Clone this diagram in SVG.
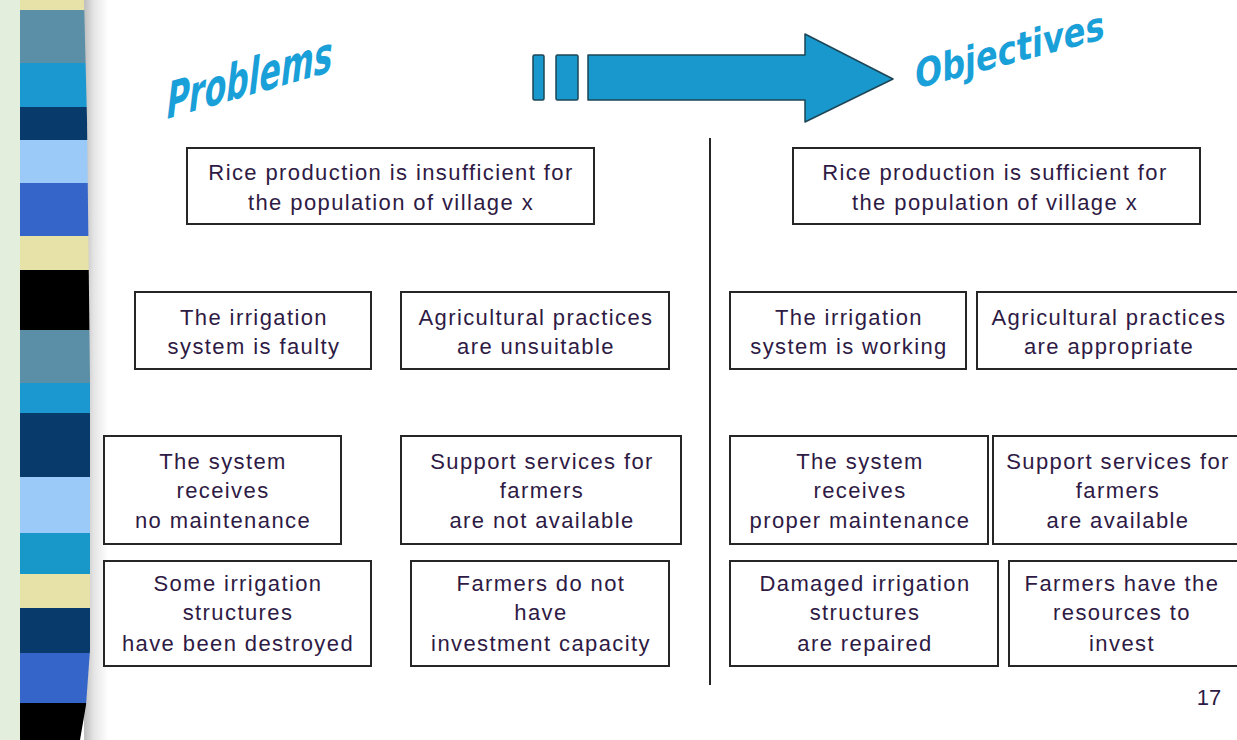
<svg xmlns="http://www.w3.org/2000/svg" width="1237" height="740" viewBox="0 0 1237 740">
<defs>
<style>
.box{fill:#fff;stroke:#262626;stroke-width:2}
.t{font-family:"Liberation Sans",Arial,sans-serif;font-size:22px;fill:#2e1a44;text-anchor:middle;letter-spacing:1.4px}
.title{font-family:"DejaVu Sans",Verdana,sans-serif;font-weight:bold;fill:#1aa0d8}
</style>
<linearGradient id="shadow" x1="0" y1="0" x2="1" y2="0">
<stop offset="0" stop-color="#bdbdbd"/>
<stop offset="0.4" stop-color="#e4e4e4"/>
<stop offset="1" stop-color="#ffffff"/>
</linearGradient>
<clipPath id="barclip">
<path d="M20,0 L84,0 L87,120 L90,380 L90,650 L86,705 L80,740 L20,740 Z"/>
</clipPath>
</defs>
<rect x="0" y="0" width="1237" height="740" fill="#ffffff"/>
<rect x="0" y="0" width="21" height="740" fill="#e3eedd"/>
<rect x="84" y="0" width="24" height="740" fill="url(#shadow)"/>
<g id="stripes" clip-path="url(#barclip)">
<rect x="20" y="0" width="72" height="10" fill="#e6e2a8"/>
<rect x="20" y="10" width="72" height="53" fill="#5b8fa8"/>
<rect x="20" y="63" width="72" height="44" fill="#1b98cf"/>
<rect x="20" y="107" width="72" height="33" fill="#083a6b"/>
<rect x="20" y="140" width="72" height="43" fill="#9ccaf8"/>
<rect x="20" y="183" width="72" height="53" fill="#3565c8"/>
<rect x="20" y="236" width="72" height="34" fill="#e6e2a8"/>
<rect x="20" y="270" width="72" height="60" fill="#000000"/>
<rect x="20" y="330" width="72" height="53" fill="#5b8fa8"/>
<rect x="20" y="383" width="72" height="30" fill="#1b98cf"/>
<rect x="20" y="413" width="72" height="64" fill="#083a6b"/>
<rect x="20" y="477" width="72" height="56" fill="#9ccaf8"/>
<rect x="20" y="533" width="72" height="41" fill="#1898c8"/>
<rect x="20" y="574" width="72" height="34" fill="#e6e2a8"/>
<rect x="20" y="608" width="72" height="45" fill="#083a6b"/>
<rect x="20" y="653" width="72" height="50" fill="#3565c8"/>
<rect x="20" y="703" width="72" height="37" fill="#000000"/>
</g>
<g id="title-problems">
<text class="title" font-size="31.5" font-style="italic" transform="matrix(1,-0.29,0,1.6,167,119)">Problems</text>
</g>
<g id="title-objectives">
<text class="title" font-size="32" transform="matrix(1,-0.266,0,1.25,915,89)">Objectives</text>
</g>
<g id="arrow" fill="#1898cc" stroke="#1d4555" stroke-width="1.5">
<rect x="533" y="55" width="11" height="45" rx="1.5"/>
<rect x="556" y="55" width="22" height="45" rx="1.5"/>
<path d="M588,55 L805,55 L805,34 L893,79 L805,122 L805,100 L588,100 Z" stroke-linejoin="round"/>
</g>
<g id="connectors">
<line x1="710" y1="138" x2="710" y2="685" stroke="#262626" stroke-width="2"/>
</g>
<g id="p-top"><rect class="box" x="187" y="148" width="407" height="76"/>
<text class="t" x="391" y="180">Rice production is insufficient for</text>
<text class="t" x="391" y="210">the population of village x</text></g>
<g id="p-irrigation"><rect class="box" x="135" y="292" width="236" height="77"/>
<text class="t" x="254" y="325">The irrigation</text>
<text class="t" x="254" y="354">system is faulty</text></g>
<g id="p-agri"><rect class="box" x="401" y="292" width="268" height="77"/>
<text class="t" x="536" y="325">Agricultural practices</text>
<text class="t" x="536" y="354">are unsuitable</text></g>
<g id="p-maint"><rect class="box" x="104" y="436" width="237" height="108"/>
<text class="t" x="223" y="469">The system</text>
<text class="t" x="223" y="498">receives</text>
<text class="t" x="223" y="528">no maintenance</text></g>
<g id="p-support"><rect class="box" x="401" y="436" width="280" height="108"/>
<text class="t" x="542" y="469">Support services for</text>
<text class="t" x="542" y="498">farmers</text>
<text class="t" x="542" y="528">are not available</text></g>
<g id="p-destroyed"><rect class="box" x="104" y="561" width="267" height="105"/>
<text class="t" x="238" y="591">Some irrigation</text>
<text class="t" x="238" y="620">structures</text>
<text class="t" x="238" y="651">have been destroyed</text></g>
<g id="p-invest"><rect class="box" x="411" y="561" width="258" height="105"/>
<text class="t" x="541" y="591">Farmers do not</text>
<text class="t" x="541" y="620">have</text>
<text class="t" x="541" y="651">investment capacity</text></g>
<g id="o-top"><rect class="box" x="793" y="148" width="407" height="76"/>
<text class="t" x="995" y="180">Rice production is sufficient for</text>
<text class="t" x="995" y="210">the population of village x</text></g>
<g id="o-irrigation"><rect class="box" x="730" y="292" width="236" height="77"/>
<text class="t" x="849" y="325">The irrigation</text>
<text class="t" x="849" y="354">system is working</text></g>
<g id="o-agri"><rect class="box" x="977" y="292" width="270" height="77"/>
<text class="t" x="1109" y="325">Agricultural practices</text>
<text class="t" x="1109" y="354">are appropriate</text></g>
<g id="o-maint"><rect class="box" x="730" y="436" width="258" height="108"/>
<text class="t" x="860" y="469">The system</text>
<text class="t" x="860" y="498">receives</text>
<text class="t" x="860" y="528">proper maintenance</text></g>
<g id="o-support"><rect class="box" x="993" y="436" width="254" height="108"/>
<text class="t" x="1118" y="469">Support services for</text>
<text class="t" x="1118" y="498">farmers</text>
<text class="t" x="1118" y="528">are available</text></g>
<g id="o-repaired"><rect class="box" x="730" y="561" width="268" height="105"/>
<text class="t" x="865" y="591">Damaged irrigation</text>
<text class="t" x="865" y="620">structures</text>
<text class="t" x="865" y="651">are repaired</text></g>
<g id="o-invest"><rect class="box" x="1009" y="561" width="238" height="105"/>
<text class="t" x="1122" y="591">Farmers have the</text>
<text class="t" x="1122" y="620">resources to</text>
<text class="t" x="1122" y="651">invest</text></g>
<text x="1209" y="705" font-family="Liberation Sans,Arial,sans-serif" font-size="22" fill="#2e1a44" text-anchor="middle">17</text>
</svg>
